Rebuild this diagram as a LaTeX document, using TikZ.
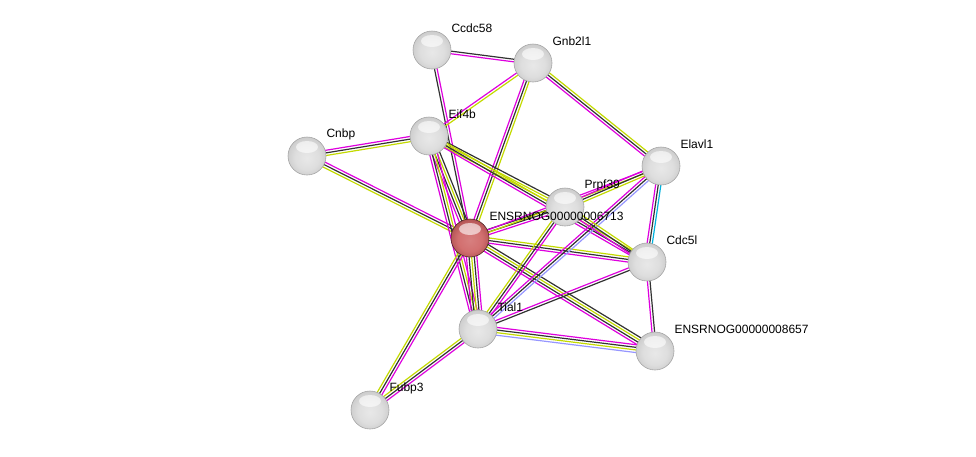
\documentclass[tikz,border=0pt]{standalone}
\usepackage{fontspec}
\setmainfont{Liberation Sans}
\usepackage{tikz}
\usetikzlibrary{calc,backgrounds}
\definecolor{exper}{RGB}{222,0,222}
\definecolor{coexp}{RGB}{50,50,50}
\definecolor{tmine}{RGB}{195,218,0}
\definecolor{homol}{RGB}{150,150,255}
\definecolor{dbase}{RGB}{0,178,222}
\definecolor{hubred}{RGB}{205,95,95}
\pgfdeclareradialshading{greyball}{\pgfpoint{0bp}{-3bp}}{color(0bp)=(gray!18); color(16bp)=(gray!26); color(28bp)=(gray!42); color(36bp)=(gray!72); color(50bp)=(gray!72)}
\pgfdeclareradialshading{redball}{\pgfpoint{0bp}{-3bp}}{color(0bp)=(hubred!80!white); color(16bp)=(hubred!90!white); color(28bp)=(hubred!85!black); color(36bp)=(hubred!45!black); color(50bp)=(hubred!45!black)}
\def\link(#1)(#2)[#3]{%
	\foreach \c [count=\i] in {#3} {\xdef\nlines{\i}}%
	\foreach \c [count=\i] in {#3} {%
		\pgfmathsetmacro\off{(\i-(\nlines+1)/2)*2.6}%
		\draw[\c, line width=1.2pt] ($(#1)!\off pt!90:(#2)$) -- ($(#2)!\off pt!-90:(#1)$);
	}}

\begin{document}
\begin{tikzpicture}[x=1pt, y=-1pt, font=\fontsize{12}{14}\selectfont,
		prot/.style={circle, inner sep=0pt, minimum size=38pt, draw=gray!70, line width=0.6pt, shading=greyball,
			path picture={\fill[white, opacity=0.6] ($(path picture bounding box.center)+(0,-9)$) ellipse (11 and 6);}},
		hub/.style={prot, draw=hubred!40!black, shading=redball},
		lbl/.style={label={[inner sep=0pt, label distance=0pt, yshift=22pt]0:#1}}]
			%%%%% START %%%%%
			
			\useasboundingbox (0, 0) rectangle (976, 456);
			
			\node[prot, lbl=Ccdc58] (ccdc) at (432, 50) {};
			\node[prot, lbl=Gnb2l1] (gnb) at (533, 63) {};
			\node[prot, lbl=Eif4b] (eif) at (429, 136) {};
			\node[prot, lbl=Cnbp] (cnbp) at (307, 156) {};
			\node[prot, lbl=Elavl1] (elavl) at (661, 166) {};
			\node[prot, lbl=Prpf39] (prpf) at (565, 207) {};
			\node[hub, lbl=ENSRNOG00000006713] (ens6713) at (470, 238) {};
			\node[prot, lbl=Cdc5l] (cdc) at (647, 262) {};
			\node[prot, lbl=Tial1] (tial) at (478, 329) {};
			\node[prot, lbl=ENSRNOG00000008657] (ens8657) at (655, 351) {};
			\node[prot, lbl=Fubp3] (fubp) at (370, 410) {};
			
			\begin{pgfonlayer}{background}
			\link(ccdc)(gnb)[exper,coexp]
			\link(ccdc)(ens6713)[coexp,exper]
			\link(gnb)(eif)[exper,tmine]
			\link(gnb)(ens6713)[exper,coexp,tmine]
			\link(gnb)(elavl)[exper,coexp,tmine]
			
			\link(cnbp)(eif)[tmine,coexp,exper]
			\link(cnbp)(ens6713)[tmine,coexp,exper]
			
			\link(eif)(ens6713)[exper,coexp,tmine,coexp]
			\link(eif)(tial)[exper,coexp,tmine,exper]
			\link(eif)(prpf)[tmine,tmine,coexp]
			\link(eif)(cdc)[exper,coexp,tmine]
			
			\link(ens6713)(prpf)[exper,coexp,coexp]
			\link(ens6713)(elavl)[tmine,exper]
			\link(ens6713)(cdc)[exper,coexp,tmine]
			\link(ens6713)(ens8657)[exper,coexp,tmine,coexp]
			\link(ens6713)(tial)[exper,coexp,tmine,coexp,exper]
			\link(ens6713)(fubp)[tmine,coexp,exper]
			
			\link(tial)(fubp)[tmine,coexp,exper]
			\link(prpf)(tial)[tmine,coexp,exper]
			\link(elavl)(tial)[exper,coexp,homol]
			\link(cdc)(tial)[exper,coexp]
			\link(tial)(ens8657)[homol,tmine,coexp,exper]
			
			\link(prpf)(cdc)[exper,coexp,tmine]
			\link(elavl)(prpf)[exper,coexp,tmine]
			\link(elavl)(cdc)[exper,coexp,dbase]
			\link(cdc)(ens8657)[exper,coexp]
			\end{pgfonlayer}
			
			%%%%% END %%%%%
\end{tikzpicture}
\end{document}
